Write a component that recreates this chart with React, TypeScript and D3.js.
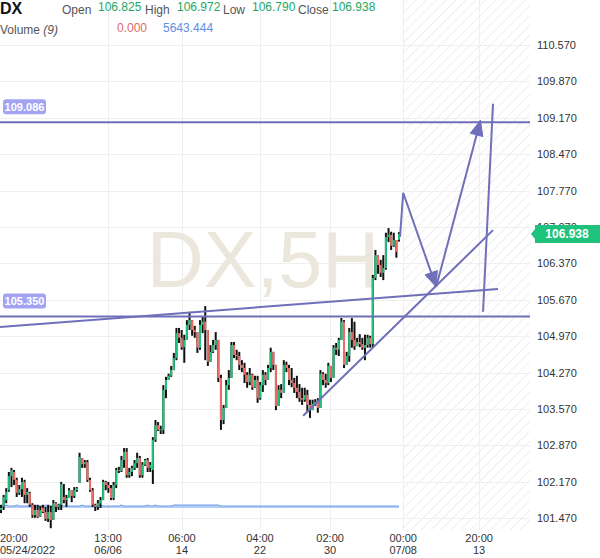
import React, { useEffect } from 'react';
import * as d3 from 'd3';

const W = 600;
const H = 558;

// ---------- data ----------
const openP = [
  101.63,101.69,101.82,102.01,102.28,102.36,102.21,101.96,102.03,102.17,
  101.92,101.96,101.73,101.53,101.63,101.51,101.67,101.59,101.46,101.59,
  101.44,101.76,101.69,101.73,101.88,101.82,101.86,102.01,101.90,102.01,
  102.15,102.63,102.51,102.55,102.21,102.01,101.73,101.69,101.76,101.82,
  102.17,102.11,102.05,101.86,102.11,102.40,102.38,102.59,102.75,102.30,
  102.36,102.44,102.53,102.63,102.30,102.50,102.59,102.44,102.40,102.98,
  103.26,103.17,103.17,103.94,104.13,104.21,104.32,104.55,105.03,104.94,
  104.76,104.90,105.19,105.28,105.09,105.05,104.75,105.19,105.25,105.09,
  104.48,104.67,104.80,104.90,104.17,103.36,103.59,104.03,104.17,104.80,
  104.61,104.59,104.42,104.36,104.23,104.09,104.23,103.99,104.13,103.78,
  104.03,104.23,104.13,104.36,104.67,104.42,103.63,103.94,103.88,104.42,
  104.36,104.13,104.07,103.98,103.90,103.78,103.75,103.84,103.65,103.55,
  103.67,103.71,103.59,104.25,104.13,104.07,104.40,104.17,104.75,104.71,
  104.90,105.25,104.42,104.59,105.05,104.90,104.78,104.86,104.82,104.75,
  104.80,104.94,104.82,106.09,106.53,106.34,106.19,106.28,106.88,106.92,
  106.71,106.82,106.825,
];
const highP = [
  101.73,101.92,102.05,102.36,102.44,102.40,102.25,102.11,102.25,102.21,
  102.05,101.98,101.76,101.73,101.73,101.71,101.73,101.69,101.73,101.71,
  101.82,101.78,101.75,102.17,102.13,101.92,102.05,102.01,102.07,102.07,
  102.73,102.63,102.59,102.59,102.25,102.05,101.75,101.82,101.88,102.21,
  102.19,102.17,102.11,102.17,102.44,102.46,102.67,102.82,102.82,102.44,
  102.48,102.59,102.73,102.67,102.55,102.61,102.63,102.55,103.03,103.36,
  103.32,103.25,104.03,104.19,104.25,104.40,104.65,105.13,105.13,105.09,
  105.00,105.28,105.44,105.28,105.17,105.05,105.28,105.36,105.55,105.09,
  104.80,104.90,105.05,104.90,104.23,103.65,104.13,104.32,104.86,104.86,
  104.71,104.67,104.51,104.46,104.28,104.36,104.25,104.21,104.21,104.09,
  104.32,104.28,104.42,104.75,104.67,104.42,104.03,104.05,104.51,104.48,
  104.42,104.36,104.17,104.21,104.05,103.98,103.98,103.94,103.75,103.75,
  103.76,103.78,104.32,104.28,104.25,104.46,104.40,104.80,104.84,104.94,
  105.32,105.28,104.67,105.13,105.32,105.25,104.94,105.01,104.94,105.00,
  105.00,104.98,106.15,106.63,106.53,106.44,106.53,106.96,107.05,106.98,
  106.96,106.82,106.972,
];
const lowP = [
  101.57,101.63,101.76,101.98,102.07,102.11,101.88,101.92,101.88,101.76,
  101.76,101.69,101.48,101.48,101.48,101.50,101.57,101.42,101.40,101.28,
  101.44,101.59,101.63,101.63,101.76,101.69,101.86,101.78,101.86,101.98,
  102.15,102.44,102.44,102.17,101.98,101.69,101.61,101.63,101.67,101.82,
  102.01,101.96,101.82,101.82,102.05,102.34,102.36,102.44,102.25,102.25,
  102.28,102.40,102.44,102.25,102.25,102.48,102.36,102.36,102.13,102.94,
  103.15,103.09,103.09,103.78,104.13,104.19,104.32,104.51,104.84,104.71,
  104.46,104.90,105.09,104.98,104.94,104.65,104.71,105.03,104.51,104.40,
  104.48,104.65,104.71,104.09,103.17,103.28,103.59,103.94,104.17,104.55,
  104.51,104.32,104.28,104.07,103.98,104.03,103.94,103.98,103.69,103.75,
  103.90,104.03,104.13,104.28,104.32,103.55,103.63,103.78,103.88,104.28,
  104.03,103.99,103.88,103.78,103.71,103.65,103.71,103.51,103.40,103.55,
  103.63,103.50,103.59,104.03,103.98,104.03,104.09,104.17,104.61,104.59,
  104.90,104.36,104.42,104.48,104.75,104.71,104.78,104.76,104.71,104.51,
  104.75,104.75,104.76,106.05,106.17,106.11,106.05,106.25,106.78,106.63,
  106.69,106.48,106.790,
];
const closeP = [
  101.67,101.88,101.98,102.28,102.40,102.21,101.96,102.03,102.17,101.92,
  101.98,101.73,101.53,101.63,101.50,101.63,101.59,101.46,101.59,101.44,
  101.76,101.69,101.73,102.13,101.82,101.86,102.01,101.90,102.01,102.05,
  102.65,102.51,102.55,102.21,102.01,101.73,101.69,101.76,101.82,102.17,
  102.11,102.05,101.86,102.11,102.40,102.38,102.59,102.75,102.30,102.36,
  102.44,102.53,102.63,102.30,102.50,102.59,102.44,102.50,102.98,103.26,
  103.17,103.18,103.94,104.13,104.21,104.32,104.55,105.03,104.94,104.76,
  104.90,105.19,105.28,105.09,105.05,104.75,105.19,105.25,105.09,104.48,
  104.67,104.80,104.90,104.17,103.36,103.59,104.03,104.17,104.80,104.61,
  104.59,104.42,104.36,104.23,104.09,104.23,103.99,104.13,103.78,104.03,
  104.23,104.13,104.36,104.67,104.42,103.63,103.94,103.88,104.42,104.36,
  104.13,104.07,103.98,103.90,103.78,103.75,103.84,103.65,103.55,103.67,
  103.71,103.59,104.25,104.13,104.07,104.40,104.17,104.75,104.71,104.90,
  105.25,104.42,104.59,105.05,104.90,104.78,104.86,104.82,104.75,104.80,
  104.94,104.82,106.09,106.53,106.34,106.19,106.28,106.88,106.92,106.71,
  106.82,106.59,106.938,
];
const volumeP = [
  2,2,3,2,2,2,3,2,2,2,
  2,3,2,2,2,2,2,3,2,2,
  2,2,2,3,2,2,2,2,2,2,
  2,3,2,2,2,2,2,2,3,2,
  2,2,2,2,2,2,3,2,2,2,
  2,2,2,2,2,2,3,2,2,3,
  2,2,2,2,2,2,3,3,3,3,
  3,3,3,3,3,3,3,3,3,3,
  3,3,3,3,2,2,2,2,2,2,
  2,2,2,2,2,2,2,2,2,2,
  2,2,2,2,2,2,2,2,2,2,
  2,2,2,2,2,2,2,2,2,2,
  2,2,2,2,2,2,2,2,2,2,
  2,2,2,2,2,2,2,2,2,2,
  2,2,2,2,2,2,2,2,2,2,
  2,2,2,
];

const priceTicks = [110.57,109.87,109.17,108.47,107.77,107.07,106.37,105.67,104.97,104.27,103.57,102.87,102.17,101.47];
const timeTickIndex = [0, 40.9, 69.1, 98.9, 125.7, 153.6, 182.6];
const timeTickTop = ['20:00','13:00','06:00','04:00','02:00','00:00','20:00'];
const timeTickBottom = ['05/24/2022','06/06','14','22','30','07/08','13'];
const futureStartIndex = 153.6;

const hLevels = [109.086, 105.350];
const hLevelLabels = ['109.086', '105.350'];
// drawn trend lines, in [bar index, price]
const trendLines: [number, number][][] = [
  [[-0.4, 105.15], [189.8, 105.88]],
  [[115.4, 103.44], [187.9, 107.01]],
  [[187.9, 109.44], [184.1, 105.44]],
];
const arrowPath1: [number, number][] = [[152.4, 106.88], [153.6, 107.73], [166.2, 105.92]];
const arrowPath2: [number, number][] = [[166.2, 105.92], [183.1, 109.12]];

const header = { symbol: 'DX', open: '106.825', high: '106.972', low: '106.790', close: '106.938', vol: '0.000', volMa: '5643.444' };
const lastPrice = 106.938;

// ---------- styles ----------
const GREEN = '#1fc27c';
const RED = '#f06c64';
const DRAW = '#6f6fba';
const FONT = 'Arial, "Liberation Sans", Helvetica, sans-serif';

function arrowHead(p0: number[], p1: number[], len = 15, half = 6.5) {
  const dx = p1[0] - p0[0], dy = p1[1] - p0[1];
  const L = Math.hypot(dx, dy);
  const ux = dx / L, uy = dy / L;
  const bx = p1[0] - ux * len, by = p1[1] - uy * len;
  return `M${p1[0]},${p1[1]}L${bx - uy * half},${by + ux * half}L${bx + uy * half},${by - ux * half}Z`;
}

export default function App() {
  useEffect(() => {
    document.body.style.margin = '0';
  }, []);

  const plotRight = 530;
  const plotBottom = 530;
  const x = d3.scaleLinear().domain([0, 152]).range([1, 399]);
  const y = d3.scaleLinear().domain([101.47, 110.57]).range([518.3, 45]);
  const yv = d3.scaleLinear().domain([0, 3]).range([508, 505]);

  const line = d3.line<[number, number]>().x(d => x(d[0])).y(d => y(d[1]));
  const volArea = d3.area<number>().x((_, i) => x(i)).y0(508).y1(d => yv(d));
  const volLine = d3.line<number>().x((_, i) => x(i)).y(d => yv(d));

  const futureX = x(futureStartIndex);

  const a1 = arrowPath1.map(p => [x(p[0]), y(p[1])]);
  const a2 = arrowPath2.map(p => [x(p[0]), y(p[1])]);

  const ly = y(lastPrice);

  return (
    <div style={{ position: 'absolute', left: 0, top: 0 }}>
      <svg width={W} height={H} style={{ display: 'block', fontFamily: FONT }}>
        <defs>
          <pattern id="hatch" width="7" height="7" patternUnits="userSpaceOnUse" patternTransform="rotate(45)">
            <line x1="0" y1="0" x2="0" y2="7" stroke="#e4e4e4" strokeWidth="1.2" />
          </pattern>
          <clipPath id="plotClip">
            <rect x={0} y={0} width={plotRight} height={plotBottom} />
          </clipPath>
        </defs>
        <rect x={0} y={0} width={W} height={H} fill="#fff" />
        <rect x={futureX} y={0} width={plotRight - futureX} height={plotBottom} fill="url(#hatch)" />

        {/* grid */}
        <g stroke="#efefef" strokeWidth={1}>
          {priceTicks.map((t, i) => (
            <line key={'h' + i} x1={0} x2={plotRight} y1={Math.round(y(t)) + 0.5} y2={Math.round(y(t)) + 0.5} />
          ))}
          {timeTickIndex.slice(1).map((t, i) => (
            <line key={'v' + i} x1={Math.round(x(t)) + 0.5} x2={Math.round(x(t)) + 0.5} y1={0} y2={plotBottom} />
          ))}
        </g>

        {/* watermark */}
        <text x={263} y={287} textAnchor="middle" fontSize={79} fill="#ebe7dc" style={{ fontFamily: FONT }}>DX,5H</text>

        {/* volume */}
        <path d={volArea(volumeP) || ''} fill="#b4cdf5" />
        <path d={volLine(volumeP) || ''} fill="none" stroke="#6a9be8" strokeWidth={1} />

        {/* bars */}
        <g clipPath="url(#plotClip)">
          {openP.map((o, i) => {
            const c = closeP[i];
            const hi = Math.max(highP[i], o, c);
            const lo = Math.min(lowP[i], o, c);
            const cx = x(i);
            const top = y(Math.max(o, c));
            const bot = y(Math.min(o, c));
            return (
              <g key={i}>
                <rect x={cx - 1} y={y(hi)} width={2} height={Math.max(1, y(lo) - y(hi))} fill="#111" />
                <rect x={cx - 1} y={top} width={2} height={Math.max(1, bot - top)} fill={c >= o ? GREEN : RED} />
              </g>
            );
          })}
        </g>

        {/* drawings */}
        <g clipPath="url(#plotClip)" fill="none" stroke={DRAW} strokeWidth={2}>
          {hLevels.map((v, i) => (
            <line key={'lvl' + i} x1={0} x2={plotRight} y1={y(v)} y2={y(v)} />
          ))}
          {trendLines.map((seg, i) => (
            <path key={'tl' + i} d={line(seg) || ''} />
          ))}
          <path d={line(arrowPath1) || ''} />
          <path d={line(arrowPath2) || ''} />
        </g>
        <path d={arrowHead(a1[1], a1[2])} fill={DRAW} stroke={DRAW} strokeWidth={1} strokeLinejoin="round" />
        <path d={arrowHead(a2[0], a2[1])} fill={DRAW} stroke={DRAW} strokeWidth={1} strokeLinejoin="round" />

        {/* level badges */}
        {hLevels.map((v, i) => (
          <g key={'b' + i}>
            <rect x={3} y={y(v) - 23} width={43} height={15} rx={3} fill="#a3a3f4" />
            <text x={24.5} y={y(v) - 11.5} textAnchor="middle" fontSize={11} fontWeight="bold" fill="#fff">{hLevelLabels[i]}</text>
          </g>
        ))}

        {/* price axis */}
        <rect x={plotRight} y={0} width={W - plotRight} height={H} fill="#fff" />
        {priceTicks.map((t, i) => (
          <text key={'pt' + i} x={537} y={y(t) + 4} fontSize={11} fill="#333">{t.toFixed(3)}</text>
        ))}
        <path d={`M${plotRight + 1},${ly} L${plotRight + 5},${ly - 5} L${plotRight + 5},${ly - 9} L${W},${ly - 9} L${W},${ly + 9} L${plotRight + 5},${ly + 9} L${plotRight + 5},${ly + 5} Z`} fill={GREEN} />
        <text x={567} y={ly + 4.5} textAnchor="middle" fontSize={12} fontWeight="bold" fill="#fff">{lastPrice.toFixed(3)}</text>

        {/* time axis */}
        {timeTickIndex.map((t, i) => {
          const tx = i === 0 ? 0 : x(t);
          const anchor = i === 0 ? 'start' : 'middle';
          return (
            <g key={'tt' + i}>
              <text x={tx} y={542} textAnchor={anchor} fontSize={11} fill="#333">{timeTickTop[i]}</text>
              <text x={tx} y={554} textAnchor={anchor} fontSize={11} fill="#333">{timeTickBottom[i]}</text>
            </g>
          );
        })}

        {/* header */}
        <text x={0} y={14} fontSize={16} fontWeight="bold" fill="#111">{header.symbol}</text>
        <text x={62} y={14} fontSize={12} fill="#555">Open</text>
        <text x={98} y={11} fontSize={12} fill="#22a861">{header.open}</text>
        <text x={145} y={14} fontSize={12} fill="#555">High</text>
        <text x={177} y={11} fontSize={12} fill="#22a861">{header.high}</text>
        <text x={223} y={14} fontSize={12} fill="#555">Low</text>
        <text x={252} y={11} fontSize={12} fill="#22a861">{header.low}</text>
        <text x={298} y={14} fontSize={12} fill="#555">Close</text>
        <text x={332} y={11} fontSize={12} fill="#22a861">{header.close}</text>
        <text x={0} y={34} fontSize={12} fill="#555">Volume <tspan fontStyle="italic">(9)</tspan></text>
        <text x={117} y={32} fontSize={12} fill="#e06a66">{header.vol}</text>
        <text x={163} y={32} fontSize={12} fill="#5b8ee6">{header.volMa}</text>
      </svg>
    </div>
  );
}
